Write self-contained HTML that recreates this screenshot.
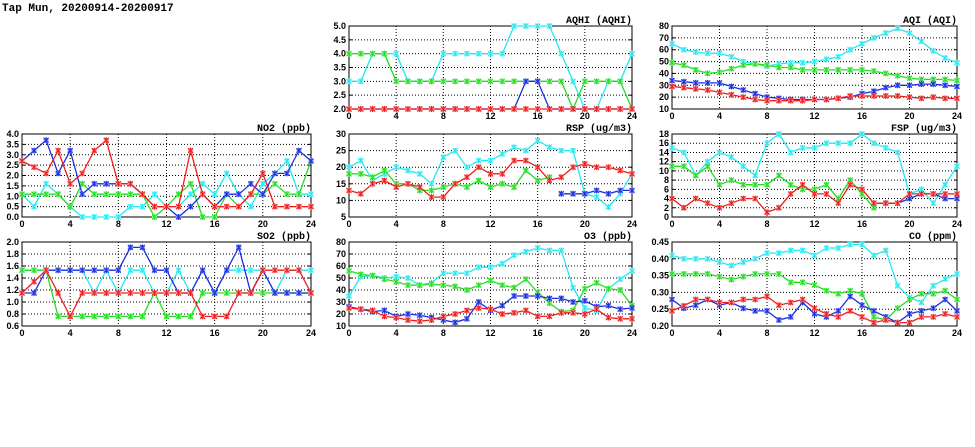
<!DOCTYPE html>
<html><head><meta charset="utf-8"><style>
body{margin:0;background:#fff;}
svg{display:block;}
text{font-family:"Liberation Sans",sans-serif;font-weight:bold;font-size:9px;fill:#000;}
.mono{font-family:"Liberation Mono",monospace;font-size:10px;}
</style></head><body>
<svg id="chart" width="975" height="447" viewBox="0 0 975 447">
<text class="mono" x="2" y="11" style="font-size:11px">Tap Mun, 20200914-20200917</text>
</svg>
<script>
const hours=[0,1,2,3,4,5,6,7,8,9,10,11,12,13,14,15,16,17,18,19,20,21,22,23,24];
const xTicks=[0,4,8,12,16,20,24];
const N=null;
const aqhiCyan=[3,3,4,4,4,3,3,3,4,4,4,4,4,4,5,5,5,5,4,3,2,2,3,3,4];
const aqhiGreen=[4,4,4,4,3,3,3,3,3,3,3,3,3,3,3,3,3,3,3,2,3,3,3,3,2];
const aqhiBlue=[2,2,2,2,2,2,2,2,2,2,2,2,2,2,2,3,3,2,2,2,2,2,2,2,2];
const aqhiRed=[2,2,2,2,2,2,2,2,2,2,2,2,2,2,2,2,2,2,2,2,2,2,2,2,2];
const aqiCyan=[65,60,58,57,57,54,50,48,46,48,49,49,50,52,54,60,65,70,74,78,74,67,59,53,49];
const aqiGreen=[49,47,43,40,41,44,47,48,47,45,45,43,43,43,43,43,43,42,40,38,36,35,35,35,34];
const aqiBlue=[34,33,32,32,32,29,26,23,20,19,18,18,18,18,19,20,23,25,28,30,30,31,31,30,29];
const aqiRed=[29,28,27,26,24,22,20,18,17,17,17,17,18,18,19,21,21,21,21,21,20,19,20,19,19];
const no2Cyan=[1.1,0.5,1.6,1.1,0.5,0,0,0,0,0.5,0.5,1.1,0.5,0.5,1.1,1.6,1.1,2.1,1.1,0.5,1.6,2.1,2.7,1.1,1.1];
const no2Green=[1.1,1.1,1.1,1.1,0.5,1.6,1.1,1.1,1.1,1.1,1.1,0,0.5,1.1,1.6,0,0,1.1,0.5,1.1,1.1,1.6,1.1,1.1,2.7];
const no2Blue=[2.7,3.2,3.7,2.1,3.2,1.1,1.6,1.6,1.6,1.6,1.1,0.5,0.5,0,0.5,1.1,0.5,1.1,1.1,1.6,1.1,2.1,2.1,3.2,2.7];
const no2Red=[2.7,2.4,2.1,3.2,1.6,2.1,3.2,3.7,1.6,1.6,1.1,0.5,0.5,0.5,3.2,1.1,0.5,0.5,0.5,1.1,2.1,0.5,0.5,0.5,0.5];
const rspCyan=[20,22,16,18,20,19,18,15,23,25,20,22,22,24,26,25,28,26,25,25,12,11,8,12,18];
const rspGreen=[18,18,17,19,15,15,13,13,14,15,14,16,14,15,14,19,16,17,N,N,N,N,N,N,N];
const rspBlue=[N,N,N,N,N,N,N,N,N,N,N,N,N,N,N,N,N,N,12,12,12,13,12,13,13];
const rspRed=[13,12,15,16,14,15,14,11,11,15,17,20,18,18,22,22,20,16,17,20,21,20,20,19,18];
const fspCyan=[15,14,9,12,14,13,11,9,16,18,14,15,15,16,16,16,18,16,15,14,5,6,3,7,11];
const fspGreen=[11,11,9,11,7,8,7,7,7,9,7,6,6,7,4,8,5,2,N,N,N,N,N,N,N];
const fspBlue=[N,N,N,N,N,N,N,N,N,N,N,N,N,N,N,N,N,3,3,3,4,5,5,4,4];
const fspRed=[4,2,4,3,2,3,4,4,1,2,5,7,5,5,3,7,6,3,3,3,5,5,5,5,5];
const so2Cyan=[1.53,1.53,1.53,1.53,1.53,1.53,1.15,1.53,1.15,1.53,1.53,1.15,1.15,1.53,1.15,1.53,1.15,1.53,1.53,1.53,1.53,1.15,1.53,1.53,1.53];
const so2Green=[1.53,1.53,1.53,0.76,0.76,0.76,0.76,0.76,0.76,0.76,0.76,1.15,0.76,0.76,0.76,1.15,1.15,1.15,1.15,1.15,1.15,1.15,1.15,1.15,1.15];
const so2Blue=[1.15,1.15,1.53,1.53,1.53,1.53,1.53,1.53,1.53,1.91,1.91,1.53,1.53,1.15,1.15,1.53,1.15,1.53,1.91,1.15,1.53,1.15,1.15,1.15,1.15];
const so2Red=[1.15,1.34,1.53,1.15,0.76,1.15,1.15,1.15,1.15,1.15,1.15,1.15,1.15,1.15,1.15,0.76,0.76,0.76,1.15,1.15,1.53,1.53,1.53,1.53,1.15];
const o3Cyan=[35,51,52,50,51,50,44,46,54,54,54,59,59,62,69,72,75,73,73,42,25,23,41,49,56];
const o3Green=[56,53,52,49,47,44,44,45,44,43,40,44,48,44,42,49,38,29,22,23,41,46,41,40,27];
const o3Blue=[26,24,22,23,18,20,19,17,15,13,16,30,23,27,35,35,35,33,33,30,31,26,27,24,25];
const o3Red=[25,24,23,18,17,15,14,15,18,20,23,25,24,20,21,23,18,18,21,21,20,24,17,16,16];
const coCyan=[.41,.40,.40,.40,.39,.38,.39,.40,.417,.417,.425,.425,.41,.432,.432,.443,.443,.41,.425,.32,.285,.27,.32,.34,.355];
const coGreen=[.355,.355,.355,.355,.347,.338,.347,.355,.355,.355,.33,.33,.322,.305,.296,.305,.296,.227,.218,.253,.279,.296,.296,.305,.279];
const coBlue=[.279,.253,.262,.279,.262,.27,.253,.245,.245,.218,.227,.27,.236,.227,.245,.288,.262,.245,.227,.21,.236,.245,.253,.279,.245];
const coRed=[.245,.26,.279,.279,.27,.27,.279,.279,.288,.262,.27,.279,.253,.236,.227,.245,.227,.21,.218,.21,.21,.227,.227,.236,.227];
const aqhiTicks=[2,2.5,3,3.5,4,4.5,5];
const aqiTicks=[10,20,30,40,50,60,70,80];
const no2Ticks=[0,0.5,1,1.5,2,2.5,3,3.5,4];
const rspTicks=[5,10,15,20,25,30];
const fspTicks=[0,2,4,6,8,10,12,14,16,18];
const so2Ticks=[0.6,0.8,1.0,1.2,1.4,1.6,1.8,2.0];
const o3Ticks=[10,20,30,40,50,60,70,80];
const coTicks=[0.20,0.25,0.30,0.35,0.40,0.45];

const COL={cyan:['#22e8f0','#a8f6fa'],green:['#22dd22','#9af09a'],blue:['#1a2ee0','#8a96f0'],red:['#ee1c1c','#f59a9a']};
const svg=document.getElementById('chart');
const NS='http://www.w3.org/2000/svg';
function mk(tag,attrs,parent){const e=document.createElementNS(NS,tag);for(const k in attrs)e.setAttribute(k,attrs[k]);(parent||svg).appendChild(e);return e;}

const panels=[
 {key:'aqhi',title:'AQHI (AQHI)',x0:349,x1:632,y0:26,y1:109,ticks:aqhiTicks,dec:1,series:[['cyan',aqhiCyan],['green',aqhiGreen],['blue',aqhiBlue],['red',aqhiRed]]},
 {key:'aqi',title:'AQI (AQI)',x0:672,x1:957,y0:26,y1:109,ticks:aqiTicks,dec:0,series:[['cyan',aqiCyan],['green',aqiGreen],['blue',aqiBlue],['red',aqiRed]]},
 {key:'no2',title:'NO2 (ppb)',x0:22,x1:311,y0:134,y1:217,ticks:no2Ticks,dec:1,series:[['cyan',no2Cyan],['green',no2Green],['blue',no2Blue],['red',no2Red]]},
 {key:'rsp',title:'RSP (ug/m3)',x0:349,x1:632,y0:134,y1:217,ticks:rspTicks,dec:0,series:[['cyan',rspCyan],['green',rspGreen],['blue',rspBlue],['red',rspRed]]},
 {key:'fsp',title:'FSP (ug/m3)',x0:672,x1:957,y0:134,y1:217,ticks:fspTicks,dec:0,series:[['cyan',fspCyan],['green',fspGreen],['blue',fspBlue],['red',fspRed]]},
 {key:'so2',title:'SO2 (ppb)',x0:22,x1:311,y0:242,y1:326,ticks:so2Ticks,dec:1,series:[['cyan',so2Cyan],['green',so2Green],['blue',so2Blue],['red',so2Red]]},
 {key:'o3',title:'O3 (ppb)',x0:349,x1:632,y0:242,y1:326,ticks:o3Ticks,dec:0,series:[['cyan',o3Cyan],['green',o3Green],['blue',o3Blue],['red',o3Red]]},
 {key:'co',title:'CO (ppm)',x0:672,x1:957,y0:242,y1:326,ticks:coTicks,dec:2,series:[['cyan',coCyan],['green',coGreen],['blue',coBlue],['red',coRed]]}
];

panels.forEach(p=>{
 const g=mk('g',{});
 
 
 const ymin=p.ticks[0],ymax=p.ticks[p.ticks.length-1];
 const xs=h=>p.x0+(h-0)/(24-0)*(p.x1-p.x0);
 const ys=v=>p.y1-(v-ymin)/(ymax-ymin)*(p.y1-p.y0);
 // grid
 p.ticks.forEach(t=>{
  const y=ys(t);
  if(t!==ymin&&t!==ymax){const l=mk('line',{x1:p.x0,x2:p.x1,y1:y,y2:y,stroke:'#000','stroke-width':1,'stroke-dasharray':'1,2'},g);
   }
  mk('line',{x1:p.x0,x2:p.x0+3,y1:y,y2:y,stroke:'#000'},g);
  mk('line',{x1:p.x1-3,x2:p.x1,y1:y,y2:y,stroke:'#000'},g);
  const tx=mk('text',{x:p.x0-3,y:y+3,'text-anchor':'end'},g);
  tx.textContent=t.toFixed(p.dec);
  
 });
 xTicks.forEach(t=>{
  const x=xs(t);
  if(t!==0&&t!==24){const l=mk('line',{x1:x,x2:x,y1:p.y0,y2:p.y1,stroke:'#000','stroke-width':1,'stroke-dasharray':'1,2'},g);
   }
  const tx=mk('text',{x:x,y:p.y1+10,'text-anchor':'middle'},g);
  tx.textContent=t;
  
 });
 const fr=mk('rect',{x:p.x0,y:p.y0,width:p.x1-p.x0,height:p.y1-p.y0,fill:'none',stroke:'#000','stroke-width':1},g);
 
 const ti=mk('text',{x:p.x1,y:p.y0-3,'text-anchor':'end',class:'mono'},g);
 ti.textContent=p.title;
 
 const cp=mk('clipPath',{id:'cp-'+p.key},g);
 mk('rect',{x:p.x0-4,y:p.y0-4,width:p.x1-p.x0+8,height:p.y1-p.y0+8},cp);
 p.series.forEach(([c,vals])=>{
  const sg=mk('g',{'clip-path':'url(#cp-'+p.key+')'},g);
  
  
  let d='',pen=false;
  vals.forEach((v,i)=>{
   if(v===null){pen=false;return;}
   d+=(pen?'L':'M')+xs(hours[i]).toFixed(1)+' '+ys(v).toFixed(1);pen=true;
  });
  const ln=mk('path',{d:d,fill:'none',stroke:COL[c][0],'stroke-width':1.3},sg);
  
  vals.forEach((v,i)=>{
   if(v===null)return;
   const x=xs(hours[i]),y=ys(v);
   const m=mk('g',{},sg);
   
   
   mk('rect',{x:x-2.5,y:y-2.5,width:5,height:5,fill:COL[c][1],stroke:'none'},m);
   mk('path',{d:`M${x-2.5} ${y-2.5}L${x+2.5} ${y+2.5}M${x+2.5} ${y-2.5}L${x-2.5} ${y+2.5}M${x} ${y-3}L${x} ${y+3}`,stroke:COL[c][0],'stroke-width':1},m);
  });
 });
});
</script>
</body></html>
